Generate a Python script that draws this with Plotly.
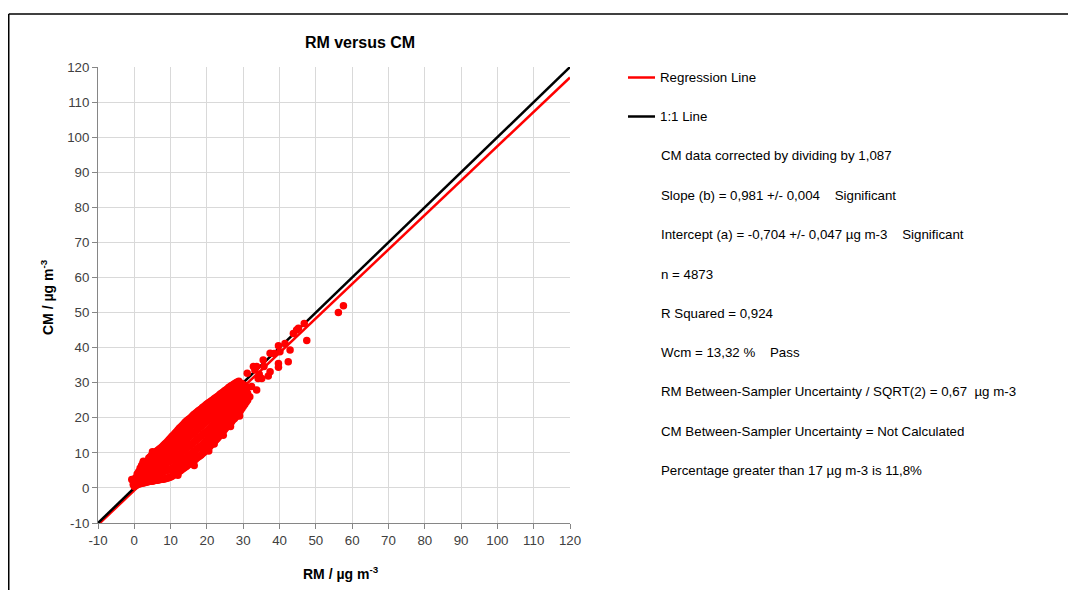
import plotly.graph_objects as go

# ---------------- data ----------------
# dense cloud, given as columns: (RM value, [CM values])
cloud_columns = [
    (-0.7, [2.4]),
    (-0.3, [1.0, 2.0]),
    (0.0, [0.4, 1.4, 2.5]),
    (0.4, [0.7, 1.8, 2.9]),
    (0.8, [0.9, 2.0, 3.1, 4.0]),
    (1.2, [1.1, 2.2, 3.4, 4.6]),
    (1.6, [1.2, 2.4, 3.6, 4.9, 5.6]),
    (2.0, [1.3, 2.6, 3.9, 5.2, 6.4]),
    (2.4, [1.4, 2.7, 4.1, 5.5, 7.2]),
    (2.8, [1.5, 2.9, 4.3, 5.7, 7.3]),
    (3.2, [1.6, 3.0, 4.4, 5.9, 7.5]),
    (3.6, [1.7, 3.1, 4.6, 6.1, 7.6]),
    (4.0, [1.8, 3.2, 4.7, 6.3, 7.8, 8.5]),
    (4.4, [1.9, 3.4, 4.9, 6.6, 8.1, 8.9]),
    (4.8, [1.9, 3.5, 5.1, 6.8, 8.3, 9.4]),
    (5.2, [2.0, 3.7, 5.3, 7.0, 8.6, 9.8]),
    (5.6, [2.1, 3.8, 5.5, 7.2, 8.8, 10.1]),
    (6.0, [2.2, 3.9, 5.7, 7.5, 9.1, 10.4]),
    (6.4, [2.2, 4.0, 5.9, 7.7, 9.4, 10.7]),
    (6.8, [2.3, 4.2, 6.1, 7.9, 9.7, 11.0]),
    (7.2, [2.4, 4.3, 6.2, 8.1, 10.0, 11.3]),
    (7.6, [2.5, 4.5, 6.4, 8.4, 10.3, 11.7]),
    (8.0, [2.5, 4.6, 6.6, 8.6, 10.6, 12.1]),
    (8.4, [2.6, 4.8, 6.8, 8.9, 10.9, 12.5]),
    (8.8, [2.7, 4.9, 7.0, 9.2, 11.2, 12.9]),
    (9.2, [2.8, 5.1, 7.3, 9.5, 11.6, 13.3]),
    (9.6, [3.0, 5.2, 7.5, 9.8, 12.0, 13.8]),
    (10.0, [3.1, 5.4, 7.8, 10.1, 12.4, 14.2]),
    (10.4, [3.3, 5.6, 8.0, 10.4, 12.7, 14.7]),
    (10.8, [3.6, 5.9, 8.3, 10.8, 13.1, 15.1]),
    (11.2, [3.9, 6.2, 8.6, 11.1, 13.5, 15.6]),
    (11.6, [4.2, 6.5, 8.9, 11.5, 13.9, 16.0]),
    (12.0, [4.5, 6.8, 9.2, 11.8, 14.3, 16.5]),
    (12.4, [4.7, 7.1, 9.6, 12.2, 14.7, 17.0]),
    (12.8, [5.0, 7.4, 9.9, 12.5, 15.0, 17.4]),
    (13.2, [5.3, 7.7, 10.3, 12.9, 15.4, 17.8]),
    (13.6, [5.6, 8.0, 10.6, 13.2, 15.8, 18.2]),
    (14.0, [5.9, 8.4, 11.0, 13.6, 16.2, 18.7]),
    (14.4, [6.2, 8.7, 11.3, 14.0, 16.6, 19.1]),
    (14.8, [6.5, 9.1, 11.7, 14.4, 17.0, 19.4]),
    (15.2, [6.9, 9.4, 12.0, 14.7, 17.3, 19.7]),
    (15.6, [7.2, 9.7, 12.4, 15.1, 17.7, 20.1]),
    (16.0, [7.5, 10.0, 12.7, 15.4, 18.0, 20.5]),
    (16.4, [7.8, 10.4, 13.1, 15.8, 18.4, 20.9]),
    (16.8, [8.1, 10.7, 13.4, 16.1, 18.8, 21.2]),
    (17.2, [8.5, 11.1, 13.8, 16.5, 19.2, 21.6]),
    (17.6, [8.8, 11.4, 14.1, 16.8, 19.5, 21.9]),
    (18.0, [9.1, 11.7, 14.5, 17.2, 19.9, 22.2]),
    (18.4, [9.4, 12.0, 14.8, 17.6, 20.2, 22.5]),
    (18.8, [9.8, 12.4, 15.2, 18.0, 20.6, 22.9]),
    (19.2, [10.2, 12.8, 15.5, 18.3, 20.9, 23.2]),
    (19.6, [10.6, 13.2, 15.9, 18.7, 21.3, 23.6]),
    (20.0, [11.0, 13.6, 16.2, 19.0, 21.6, 23.9]),
    (20.4, [11.4, 14.0, 16.6, 19.4, 22.0, 24.2]),
    (20.8, [11.8, 14.4, 17.0, 19.7, 22.3, 24.5]),
    (21.2, [12.3, 14.8, 17.4, 20.1, 22.7, 24.8]),
    (21.6, [12.7, 15.2, 17.8, 20.4, 23.0, 25.1]),
    (22.0, [13.2, 15.6, 18.2, 20.8, 23.3, 25.4]),
    (22.4, [13.6, 16.0, 18.6, 21.1, 23.6, 25.7]),
    (22.8, [14.0, 16.5, 19.0, 21.5, 23.9, 26.0]),
    (23.2, [14.5, 16.9, 19.3, 21.8, 24.2, 26.3]),
    (23.6, [15.0, 17.4, 19.7, 22.2, 24.6, 26.7]),
    (24.0, [15.6, 17.8, 20.1, 22.6, 24.9, 27.0]),
    (24.4, [16.1, 18.3, 20.6, 23.0, 25.2, 27.3]),
    (24.8, [16.6, 18.8, 21.0, 23.3, 25.5, 27.6]),
    (25.2, [17.1, 19.3, 21.5, 23.7, 25.9, 27.9]),
    (25.6, [17.6, 19.7, 21.9, 24.1, 26.2, 28.2]),
    (26.0, [18.0, 20.2, 22.4, 24.5, 26.6, 28.6]),
    (26.4, [18.4, 20.6, 22.8, 24.9, 26.9, 28.9]),
    (26.8, [18.9, 21.1, 23.3, 25.3, 27.3, 29.2]),
    (27.2, [19.4, 21.6, 23.7, 25.7, 27.6, 29.4]),
    (27.6, [19.8, 22.0, 24.2, 26.1, 28.0, 29.7]),
    (28.0, [20.3, 22.5, 24.6, 26.5, 28.3, 30.0]),
    (28.4, [20.8, 23.0, 25.1, 27.0, 28.7, 30.2]),
    (28.8, [21.4, 23.6, 25.6, 27.4, 29.0, 30.4]),
    (29.2, [22.0, 24.2, 26.2, 27.9, 29.4]),
    (29.6, [22.6, 24.8, 26.7, 28.4, 29.8]),
    (30.0, [23.2, 25.4, 27.3, 28.9]),
    (30.4, [23.8, 26.0, 27.8, 29.3]),
    (30.8, [24.4, 26.5, 28.2]),
    (31.2, [25.0, 27.0, 28.6]),
]

# lumps on the edges of the dense cloud
edge_rm = [2.5, 5.0, 20.5, 22.0, 22.9, 24.5, 26.5, 29.0, 31.8, 12.0, 16.5]
edge_cm = [7.6, 10.3, 10.5, 12.5, 14.6, 15.0, 17.5, 20.5, 26.0, 3.6, 6.4]

# sparse points above the dense cloud
outlier_rm = [57.6, 56.2, 47.5, 46.8, 44.7, 45.2, 43.8, 42.9, 42.4, 41.5, 39.7, 40.1,
              38.5, 37.4, 39.7, 39.7, 37.4, 36.9, 35.7, 33.7, 33.2, 34.1, 31.1, 34.4,
              33.7, 32.3, 30.0, 35.5, 35.1, 32.8]
outlier_cm = [51.9, 50.0, 42.0, 46.9, 45.0, 45.5, 44.0, 39.3, 36.0, 41.2, 40.5, 38.8,
              38.3, 38.4, 35.5, 34.4, 33.1, 31.9, 34.6, 34.6, 33.6, 31.2, 32.7, 32.4,
              27.9, 28.9, 24.1, 36.5, 31.2, 34.6]

slope = 0.981
intercept = -0.704
line_x = [-10, 120]

x_ticks = list(range(-10, 121, 10))
y_ticks = list(range(-10, 121, 10))

info_lines = [
    "CM data corrected by dividing by 1,087",
    "Slope (b) = 0,981 +/- 0,004\u00a0\u00a0\u00a0\u00a0Significant",
    "Intercept (a) = -0,704 +/- 0,047 µg m-3\u00a0\u00a0\u00a0\u00a0Significant",
    "n = 4873",
    "R Squared = 0,924",
    "Wcm = 13,32 %\u00a0\u00a0\u00a0\u00a0Pass",
    "RM Between-Sampler Uncertainty / SQRT(2) = 0,67\u00a0\u00a0µg m-3",
    "CM Between-Sampler Uncertainty = Not Calculated",
    "Percentage greater than 17 µg m-3 is 11,8%",
]

# ---------------- build ----------------
rm = [c[0] for c in cloud_columns for _ in c[1]] + edge_rm + outlier_rm
cm = [v for c in cloud_columns for v in c[1]] + edge_cm + outlier_cm

FONT = "Liberation Sans, Arial, sans-serif"
W, H = 1060, 582          # page adds an 8 px body margin
L, R, T, B = 90, 562, 59, 515  # plot area in figure pixels


def px(xp):
    return (xp - L) / (R - L)


def py(yp):
    return (B - yp) / (B - T)


fig = go.Figure()

fig.add_trace(go.Scatter(
    x=line_x, y=[slope * v + intercept for v in line_x], mode="lines",
    line=dict(color="#FF0000", width=2.5), name="Regression Line", showlegend=False))
fig.add_trace(go.Scatter(
    x=line_x, y=line_x, mode="lines",
    line=dict(color="#000000", width=2.5), name="1:1 Line", showlegend=False))
fig.add_trace(go.Scatter(
    x=rm, y=cm, mode="markers",
    marker=dict(color="#FF0000", size=7.5, line=dict(width=0)),
    name="RM versus CM", showlegend=False))

axis_common = dict(
    range=[-10, 120], tickmode="array", showgrid=True, gridcolor="#D9D9D9", gridwidth=1,
    zeroline=False, showline=True, linecolor="#868686", linewidth=1,
    ticks="outside", ticklen=5, tickcolor="#868686",
    tickfont=dict(family=FONT, size=13.3, color="#404040"),
)
fig.update_xaxes(tickvals=x_ticks, ticktext=[str(v) for v in x_ticks], **axis_common)
fig.update_yaxes(tickvals=y_ticks, ticktext=[str(v) for v in y_ticks], **axis_common)

shapes = [
    # outer frame (top and left edges)
    dict(type="line", xref="paper", yref="paper", x0=px(0.75), x1=px(W + 5), y0=py(6), y1=py(6),
         line=dict(color="#000000", width=1.5)),
    dict(type="line", xref="paper", yref="paper", x0=px(0.75), x1=px(0.75), y0=py(6), y1=py(H + 5),
         line=dict(color="#000000", width=1.5)),
    # legend keys
    dict(type="line", xref="paper", yref="paper", x0=px(620), x1=px(647), y0=py(69.5), y1=py(69.5),
         line=dict(color="#FF0000", width=2.5)),
    dict(type="line", xref="paper", yref="paper", x0=px(620), x1=px(647), y0=py(108.5), y1=py(108.5),
         line=dict(color="#000000", width=2.5)),
]

annotations = [
    dict(text="Regression Line", x=px(650), y=py(69.5)),
    dict(text="1:1 Line", x=px(650), y=py(108.5)),
]
info_y = [147.7, 187, 226.5, 266, 305.3, 344.5, 383.7, 423.5, 462.5]
for t, yy in zip(info_lines, info_y):
    annotations.append(dict(text=t, x=px(651), y=py(yy)))
for a in annotations:
    a.update(xref="paper", yref="paper", xanchor="left", yanchor="middle", showarrow=False,
             font=dict(family=FONT, size=13.3, color="#000000"))

annotations.append(dict(
    text="<b>CM / µg m<sup>-3</sup></b>", xref="paper", yref="paper", x=px(39), y=py(289),
    textangle=-90, showarrow=False, xanchor="center", yanchor="middle",
    font=dict(family=FONT, size=14, color="#000000")))
annotations.append(dict(
    text="<b>RM / µg m<sup>-3</sup></b>", xref="paper", yref="paper", x=px(333), y=py(565),
    showarrow=False, xanchor="center", yanchor="middle",
    font=dict(family=FONT, size=14, color="#000000")))

fig.update_layout(
    width=W, height=H,
    margin=dict(l=L, r=W - R, t=T, b=H - B, pad=0),
    paper_bgcolor="#FFFFFF", plot_bgcolor="#FFFFFF",
    title=dict(text="<b>RM versus CM</b>", x=px(352), xref="paper", xanchor="center",
               y=1 - 34 / H, yref="container", yanchor="middle",
               font=dict(family=FONT, size=16, color="#000000")),
    shapes=shapes, annotations=annotations,
    showlegend=False,
)

fig.write_html("out.html")
